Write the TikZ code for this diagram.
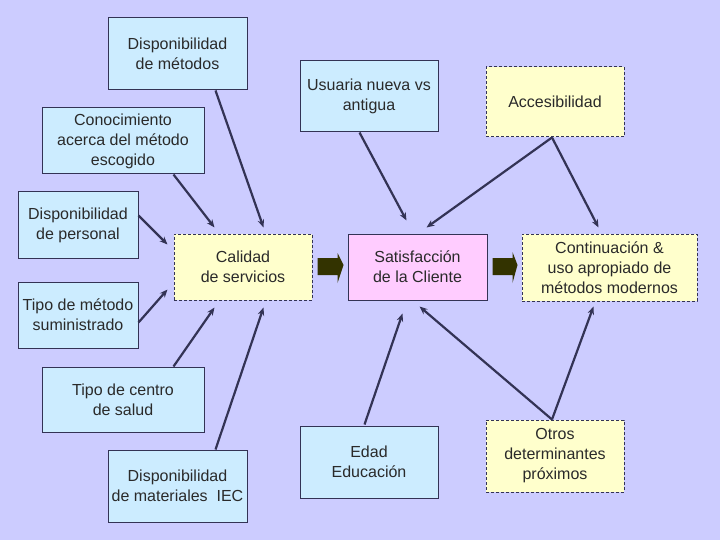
\documentclass[tikz,border=0pt]{standalone}
\usepackage{fontspec}
\setmainfont{Liberation Sans}
\usetikzlibrary{arrows.meta}
\definecolor{bg}{HTML}{CCCCFF}
\definecolor{bluebox}{HTML}{CCECFF}
\definecolor{yelbox}{HTML}{FFFFCC}
\definecolor{pinkbox}{HTML}{FFCCFF}
\definecolor{edge}{HTML}{333355}
\definecolor{txt}{HTML}{2A2A2A}
\definecolor{blkarrow}{HTML}{333300}
\tikzset{
  box/.style={draw=edge, line width=1pt, inner sep=0pt, align=center, text=txt,
    font=\fontsize{16}{20}\selectfont},
  blue/.style={box, fill=bluebox},
  yel/.style={box, fill=yelbox, dash pattern=on 3pt off 2pt},
  pink/.style={box, fill=pinkbox},
  arr/.style={draw=edge, line width=2.2pt, -{Stealth[length=8pt,width=6.5pt]}},
  blk/.style={fill=blkarrow}
}
\begin{document}
\begin{tikzpicture}[x=1pt,y=-1pt]
\useasboundingbox[fill=bg] (0,0) rectangle (720,540);
% nodes
\node[blue, minimum width=139pt, minimum height=72pt] (dm) at (177.5,54) {Disponibilidad\\de métodos};
\node[blue, minimum width=162pt, minimum height=66pt] (con) at (123,141) {Conocimiento\\acerca del método\\escogido};
\node[blue, minimum width=120pt, minimum height=66pt] (dp) at (78,225) {Disponibilidad\\de personal};
\node[blue, minimum width=120pt, minimum height=66pt] (tm) at (78,315) {Tipo de método\\suministrado};
\node[blue, minimum width=162pt, minimum height=65pt] (tc) at (123,399.5) {Tipo de centro\\de salud};
\node[blue, minimum width=139pt, minimum height=72pt] (dmat) at (177.5,486) {Disponibilidad\\de materiales\ \ IEC};
\node[yel, minimum width=138pt, minimum height=66pt] (cal) at (243,267) {Calidad\\de servicios};
\node[blue, minimum width=138pt, minimum height=71pt] (usu) at (369,96.5) {Usuaria nueva vs\\antigua};
\node[pink, minimum width=139pt, minimum height=66pt] (sat) at (417.5,267) {Satisfacción\\de la Cliente};
\node[blue, minimum width=138pt, minimum height=72pt] (edad) at (369,462) {Edad\\Educación};
\node[yel, minimum width=138pt, minimum height=70pt] (acc) at (555,102) {Accesibilidad};
\node[yel, minimum width=175pt, minimum height=67pt] (cont) at (609.5,267.5) {Continuación \&\\uso apropiado de\\métodos modernos};
\node[yel, minimum width=138pt, minimum height=72pt] (otros) at (555,456) {Otros\\determinantes\\próximos};
% connectors into Calidad
\draw[arr] ([xshift=108pt]dm.south west) -- ([xshift=90pt,yshift=6pt]cal.north west);
\draw[arr] ([xshift=132pt]con.south west) -- ([xshift=41pt,yshift=6pt]cal.north west);
\draw[arr] ([yshift=-24pt]dp.north east) -- ([xshift=-6pt,yshift=-11pt]cal.north west);
\draw[arr] ([yshift=-41pt]tm.north east) -- ([xshift=-6pt,yshift=11pt]cal.south west);
\draw[arr] ([xshift=132pt]tc.north west) -- ([xshift=41pt,yshift=-7pt]cal.south west);
\draw[arr] ([xshift=108pt]dmat.north west) -- ([xshift=90pt,yshift=-7pt]cal.south west);
% connectors into Satisfaccion / Continuacion
\draw[arr] ([xshift=60pt]usu.south west) -- ([xshift=59pt,yshift=13pt]sat.north west);
\draw[arr] ([xshift=-3pt]acc.south) -- ([xshift=79pt,yshift=6pt]sat.north west);
\draw[arr] ([xshift=-3pt]acc.south) -- ([xshift=77pt,yshift=6pt]cont.north west);
\draw[arr] ([xshift=65pt,yshift=1pt]edad.north west) -- ([xshift=55pt,yshift=-13pt]sat.south west);
\draw[arr] ([xshift=-3pt]otros.north) -- ([xshift=72pt,yshift=-6pt]sat.south west);
\draw[arr] ([xshift=-3pt]otros.north) -- ([xshift=72pt,yshift=-5pt]cont.south west);
% block arrows
\fill[blk, shift={(cal.east)}] (5,-9) -- (25,-9) -- (25,-14) -- (31,-2) -- (25,16) -- (25,8) -- (5,8) -- cycle;
\fill[blk, shift={(sat.east)}] (5,-9) -- (25,-9) -- (25,-15) -- (30,-2) -- (25,16) -- (25,8) -- (5,8) -- cycle;
\end{tikzpicture}
\end{document}
